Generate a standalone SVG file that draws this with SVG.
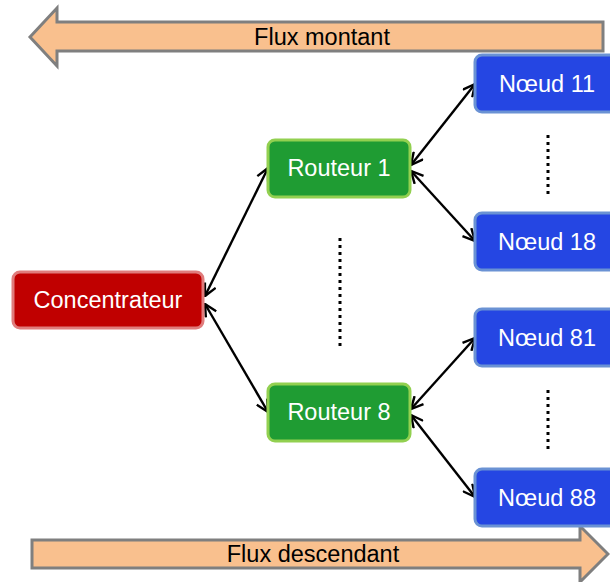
<svg xmlns="http://www.w3.org/2000/svg" width="610" height="582" viewBox="0 0 610 582">
<defs>
<style>
.t{font-family:"Liberation Sans",Arial,sans-serif;font-size:23.5px;text-anchor:middle;dominant-baseline:central}
.w{fill:#fff}
.red{fill:#C00000;stroke:#E07C7C;stroke-width:3}
.grn{fill:#1F9C33;stroke:#92D050;stroke-width:3}
.blu{fill:#2546E3;stroke:#6A92D4;stroke-width:3}
.flux{fill:#F9C08E;stroke:#7F7F7F;stroke-width:3}
.c{stroke:#000;stroke-width:2.4;fill:none;marker-start:url(#a);marker-end:url(#a)}
.dot{stroke:#000;stroke-width:3;stroke-dasharray:3 4;fill:none}
</style>
<marker id="a" viewBox="0 0 14 14" refX="13" refY="7" markerWidth="14" markerHeight="14" markerUnits="userSpaceOnUse" orient="auto-start-reverse">
<path d="M1,1 L13,7 L1,13" fill="none" stroke="#000" stroke-width="2.4"/>
</marker>
</defs>
<g id="flux-montant">
<path class="flux" d="M30,37 L57,8 L57,22 L603,22 L603,51 L57,51 L57,66 Z"/>
<text class="t" x="322" y="37">Flux montant</text>
</g>
<g id="flux-descendant">
<path class="flux" d="M32,540 L580,540 L580,526 L608,554 L580,582 L580,568 L32,568 Z"/>
<text class="t" x="313" y="554">Flux descendant</text>
</g>
<g id="connectors">
<line class="c" x1="205" y1="296" x2="268" y2="168"/>
<line class="c" x1="205" y1="304" x2="268" y2="412"/>
<line class="c" x1="411" y1="165" x2="475" y2="84"/>
<line class="c" x1="411" y1="171" x2="475" y2="241"/>
<line class="c" x1="411" y1="409" x2="475" y2="338"/>
<line class="c" x1="411" y1="415" x2="475" y2="497"/>
<line class="dot" x1="340" y1="238" x2="340" y2="347"/>
<line class="dot" x1="548" y1="135" x2="548" y2="194"/>
<line class="dot" x1="548" y1="390" x2="548" y2="449"/>
</g>
<g id="concentrateur">
<rect class="red" x="13" y="272" width="190" height="56" rx="7"/>
<text class="t w" x="108" y="300">Concentrateur</text>
</g>
<g id="routeur1">
<rect class="grn" x="268" y="140" width="142" height="57" rx="7"/>
<text class="t w" x="339" y="168">Routeur 1</text>
</g>
<g id="routeur8">
<rect class="grn" x="268" y="384" width="142" height="57" rx="7"/>
<text class="t w" x="339" y="412">Routeur 8</text>
</g>
<g id="noeud11">
<rect class="blu" x="475" y="55" width="142" height="57" rx="7"/>
<text class="t w" x="547" y="84">Nœud 11</text>
</g>
<g id="noeud18">
<rect class="blu" x="475" y="213" width="142" height="57" rx="7"/>
<text class="t w" x="547" y="242">Nœud 18</text>
</g>
<g id="noeud81">
<rect class="blu" x="475" y="309" width="142" height="57" rx="7"/>
<text class="t w" x="547" y="338">Nœud 81</text>
</g>
<g id="noeud88">
<rect class="blu" x="475" y="469" width="142" height="57" rx="7"/>
<text class="t w" x="547" y="498">Nœud 88</text>
</g>
</svg>
